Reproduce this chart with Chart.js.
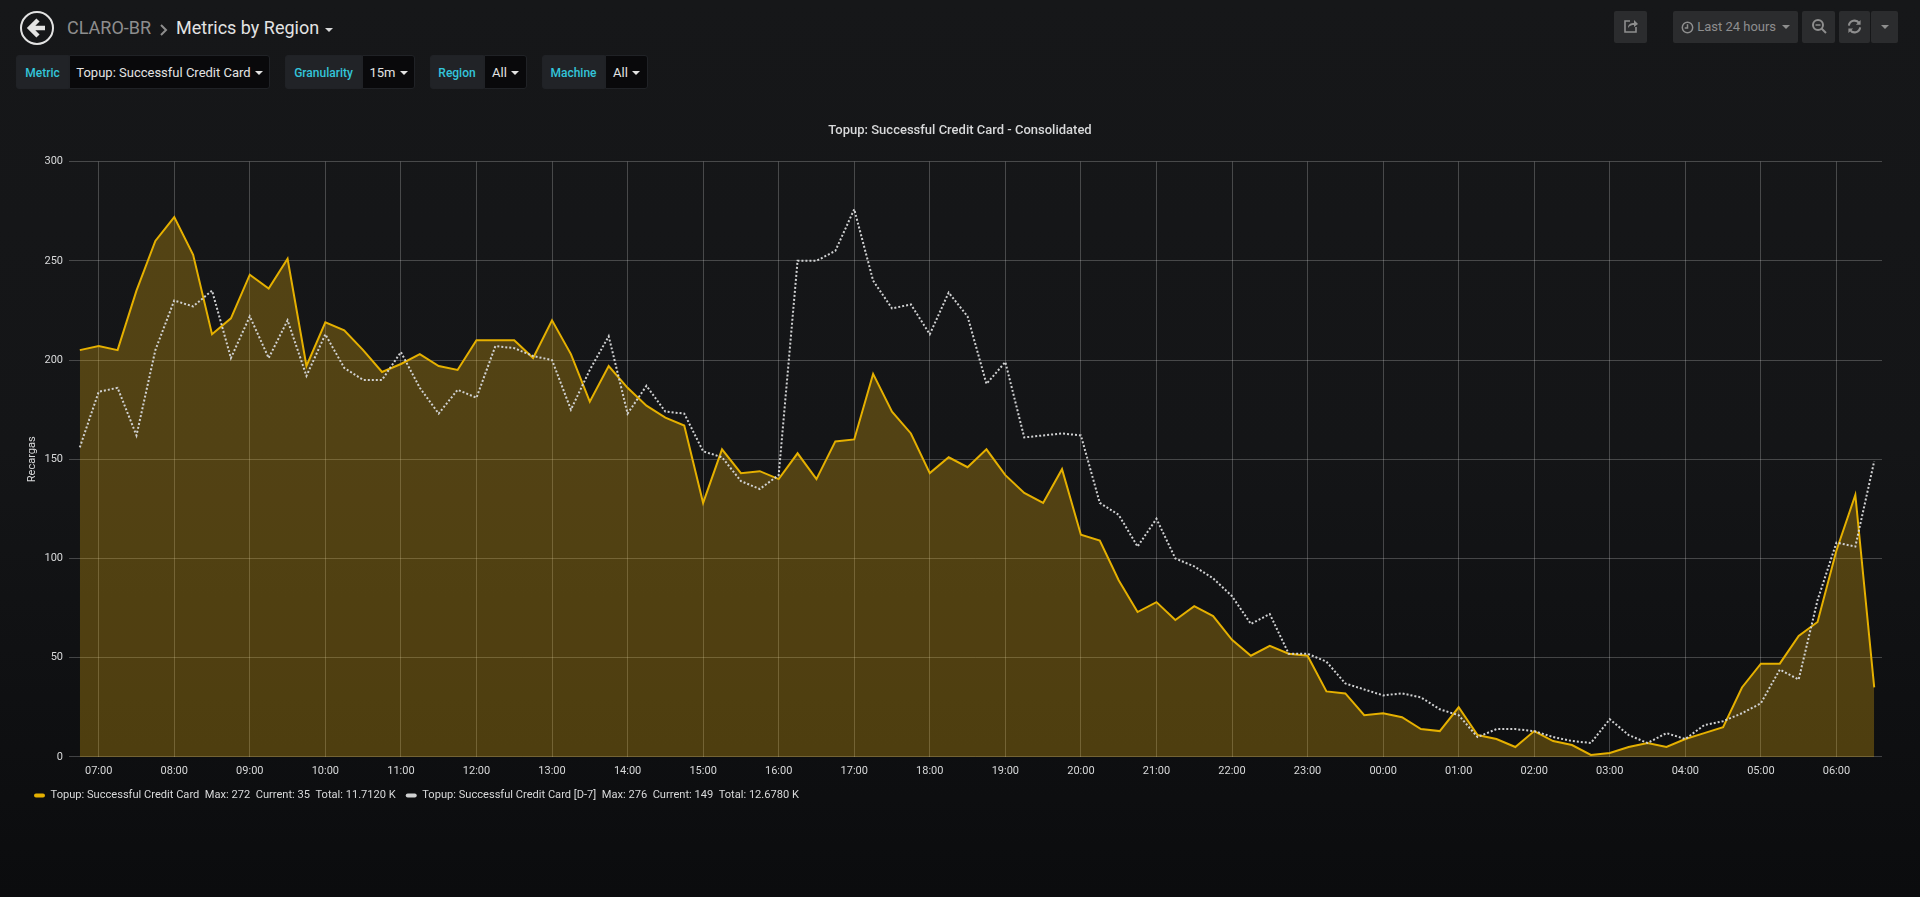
<!DOCTYPE html>
<html>
<head>
<meta charset="utf-8">
<title>Metrics by Region</title>
<script src="https://cdn.jsdelivr.net/npm/chart.js@4"></script>
<style>
	html, body { margin: 0; padding: 0; width: 1920px; height: 897px; overflow: hidden; }
	body { background: linear-gradient(#161719 0%, #141517 50%, #0b0c0e 100%); font-family: Roboto, sans-serif; color: #d8d9da; }
	.abs { position: absolute; white-space: nowrap; }
	.back { left: 20px; top: 11px; width: 30px; height: 30px; border: 2px solid #e3e3e3; border-radius: 50%; }
	.crumb { top: 16px; font-size: 18px; line-height: 23px; }
	.lbl, .val { top: 55px; height: 34px; line-height: 34px; font-size: 13px; text-align: center; box-sizing: border-box; border: 1px solid #202226; }
	.lbl { background: #212327; color: #33c5da; font-weight: 500; font-size: 12px; border-radius: 3px 0 0 3px; }
	.val { background: #09090b; color: #e3e3e3; border-radius: 0 3px 3px 0; }
	.caret { display: inline-block; width: 0; height: 0; border-left: 4px solid transparent; border-right: 4px solid transparent; border-top: 4px solid currentColor; margin-left: 4px; vertical-align: 2px; }
	.btn { top: 11px; height: 32px; background: #2b2c2e; color: #8e8e8e; border-radius: 2px; font-size: 13px; line-height: 32px; text-align: center; }
	.btn svg { vertical-align: -3px; }
	#wrap { position: absolute; left: 0; top: 100px; width: 1920px; height: 711px; }
</style>
</head>
<body>
<div class="abs back">
	<svg width="30" height="30" viewBox="0 0 30 30"><path d="M16 7 L8 15 L16 23 M9 15 L23 15" fill="none" stroke="#e3e3e3" stroke-width="4.5"/></svg>
</div>
<div class="abs crumb" style="left:67px;color:#8e8e8e">CLARO-BR</div>
<div class="abs" style="left:160px;top:21px">
	<svg width="8" height="12" viewBox="0 0 8 12"><path d="M1 1 L6 6 L1 11" fill="none" stroke="#8e8e8e" stroke-width="2"/></svg>
</div>
<div class="abs crumb" style="left:176px;color:#e3e3e3">Metrics by Region</div>
<div class="abs" style="left:325px;top:28px;width:0;height:0;border-left:4px solid transparent;border-right:4px solid transparent;border-top:4px solid #d8d9da"></div>

<div class="abs lbl" style="left:16px;width:53px">Metric</div>
<div class="abs val" style="left:69px;width:201px">Topup: Successful Credit Card<span class="caret"></span></div>
<div class="abs lbl" style="left:285px;width:77px">Granularity</div>
<div class="abs val" style="left:362px;width:53px">15m<span class="caret"></span></div>
<div class="abs lbl" style="left:430px;width:54px">Region</div>
<div class="abs val" style="left:484px;width:43px">All<span class="caret"></span></div>
<div class="abs lbl" style="left:542px;width:63px">Machine</div>
<div class="abs val" style="left:605px;width:43px">All<span class="caret"></span></div>

<div class="abs btn" style="left:1614px;width:33px">
	<svg width="16" height="16" viewBox="0 0 16 16" fill="none" stroke="#8e8e8e" stroke-width="1.6"><path d="M7 3 H2 V14 H13 V9"/><path d="M5 10 C5 6 8 5 11 5 V2 L15 6 L11 9 V7 C9 7 7 7 5 10 Z" fill="#8e8e8e" stroke="none"/></svg>
</div>
<div class="abs btn" style="left:1673px;width:125px">
	<svg width="13" height="13" viewBox="0 0 14 14" fill="none" stroke="#8e8e8e" stroke-width="1.6"><circle cx="7" cy="7" r="5.6"/><path d="M7 3.5 V7.5 H4"/></svg>
	Last 24 hours<span class="caret" style="margin-left:6px"></span>
</div>
<div class="abs btn" style="left:1802px;width:33px">
	<svg width="16" height="16" viewBox="0 0 16 16" fill="none" stroke="#8e8e8e" stroke-width="2"><circle cx="7" cy="7" r="5"/><path d="M4.5 7 H9.5" stroke-width="1.5"/><path d="M10.5 10.5 L15 15"/></svg>
</div>
<div class="abs btn" style="left:1839px;width:31px">
	<svg width="15" height="15" viewBox="0 0 16 16" fill="none" stroke="#8e8e8e" stroke-width="2.2"><path d="M2 7 A6 6 0 0 1 13 4.5"/><path d="M14 9 A6 6 0 0 1 3 11.5"/><path d="M14.5 1 V6 H9.5 Z M1.5 15 V10 H6.5 Z" fill="#8e8e8e" stroke="none"/></svg>
</div>
<div class="abs btn" style="left:1871px;width:27px"><span class="caret" style="margin:0"></span></div>

<div id="wrap"><canvas id="chart"></canvas></div>

<script>
var chartTitle = "Topup: Successful Credit Card - Consolidated";
var seriesNames = ["Topup: Successful Credit Card", "Topup: Successful Credit Card [D-7]"];
var seriesTotals = ["11.7120 K", "12.6780 K"];

var times = [
	"06:45","07:00","07:15","07:30","07:45","08:00","08:15","08:30","08:45","09:00","09:15","09:30",
	"09:45","10:00","10:15","10:30","10:45","11:00","11:15","11:30","11:45","12:00","12:15","12:30",
	"12:45","13:00","13:15","13:30","13:45","14:00","14:15","14:30","14:45","15:00","15:15","15:30",
	"15:45","16:00","16:15","16:30","16:45","17:00","17:15","17:30","17:45","18:00","18:15","18:30",
	"18:45","19:00","19:15","19:30","19:45","20:00","20:15","20:30","20:45","21:00","21:15","21:30",
	"21:45","22:00","22:15","22:30","22:45","23:00","23:15","23:30","23:45","00:00","00:15","00:30",
	"00:45","01:00","01:15","01:30","01:45","02:00","02:15","02:30","02:45","03:00","03:15","03:30",
	"03:45","04:00","04:15","04:30","04:45","05:00","05:15","05:30","05:45","06:00","06:15","06:30"
];

var current = [
	205,207,205,235,260,272,253,213,221,243,236,251,
	197,219,215,205,194,198,203,197,195,210,210,210,
	201,220,203,179,197,186,177,171,167,128,155,143,
	144,140,153,140,159,160,193,174,163,143,151,146,
	155,142,133,128,145,112,109,89,73,78,69,76,
	71,59,51,56,52,51,33,32,21,22,20,14,
	13,25,11,9,5,13,8,6,1,2,5,7,
	5,9,12,15,35,47,47,61,68,104,132,35
];

var previous = [
	156,184,186,162,205,230,227,235,201,222,201,220,
	192,213,196,190,190,204,186,173,185,181,207,206,
	202,200,175,195,212,173,187,174,173,154,151,139,
	135,142,250,250,255,276,240,226,228,213,234,222,
	188,199,161,162,163,162,128,122,106,120,100,96,
	90,81,67,72,52,52,48,37,34,31,32,30,
	24,21,10,14,14,13,10,8,7,19,11,7,
	12,9,16,18,22,27,44,39,79,108,106,149
];

// hours since midnight, next day continues past 24
function toHours(label, i){
	var p = label.split(":");
	var h = parseInt(p[0], 10) + parseInt(p[1], 10) / 60;
	return i >= times.indexOf("00:00") ? h + 24 : h;
}
function toPoints(values){
	return values.map(function(v, i){ return { x: toHours(times[i], i), y: v }; });
}
function pad(n){ return (n < 10 ? "0" : "") + n; }

var textColor = "#d8d9da";
var gridColor = "rgba(255,255,255,0.22)";
var font11 = { family: "Roboto", size: 11 };

// title is centred on the page, not on the padded layout box
var centreTitle = {
	id: "centreTitle",
	afterLayout: function(chart){
		chart.titleBlock.left = 0;
		chart.titleBlock.right = chart.width;
	}
};

var ctx = document.getElementById("chart").getContext("2d");
window.myChart = new Chart(ctx, {
	type: "line",
	plugins: [centreTitle],
	data: {
		datasets: [
			{ label: seriesNames[0], data: toPoints(current), borderColor: "#e5b000", backgroundColor: "rgba(229,172,14,0.3)", borderWidth: 2, fill: "origin", pointRadius: 0, tension: 0, order: 2 },
			{ label: seriesNames[1], data: toPoints(previous), borderColor: "#d0d1d2", backgroundColor: "#d0d1d2", borderWidth: 2, borderDash: [2, 2], fill: false, pointRadius: 0, tension: 0, order: 1 }
		]
	},
	options: {
		responsive: true,
		maintainAspectRatio: false,
		animation: false,
		devicePixelRatio: 1,
		layout: { padding: { left: 24, right: 38, top: 0, bottom: 0 } },
		plugins: {
			tooltip: { enabled: false },
			title: { display: true, text: chartTitle, color: textColor, font: { family: "Roboto", size: 13, weight: "500" }, padding: { top: 23, bottom: 23 } },
			legend: {
				position: "bottom",
				align: "start",
				labels: {
					font: { family: "Roboto", size: 11.1 },
					color: textColor,
					padding: 10,
					boxWidth: 11,
					boxHeight: 4,
					useBorderRadius: true,
					borderRadius: 2,
					generateLabels: function(chart){
						return chart.data.datasets.map(function(ds, i){
							var vals = ds.data.map(function(p){ return p.y; });
							return {
								text: ds.label + "  Max: " + Math.max.apply(null, vals) + "  Current: " + vals[vals.length - 1] + "  Total: " + seriesTotals[i],
								fillStyle: ds.borderColor,
								strokeStyle: ds.borderColor,
								lineWidth: 0,
								borderRadius: 2,
								fontColor: textColor,
								datasetIndex: i
							};
						});
					}
				}
			}
		},
		scales: {
			x: {
				type: "linear",
				min: 6.607,
				max: 30.603,
				afterFit: function(s){ s.height = 23; },
				grid: { color: gridColor, drawTicks: false },
				border: { display: false },
				ticks: {
					stepSize: 1,
					includeBounds: false,
					autoSkip: false,
					maxRotation: 0,
					padding: 8,
					color: textColor,
					font: font11,
					callback: function(v){ return pad(Math.round(v) % 24) + ":00"; }
				}
			},
			y: {
				min: 0,
				max: 300,
				afterFit: function(s){ s.width = 45; },
				title: { display: true, text: "Recargas", color: textColor, font: font11, padding: { top: 2, bottom: 0 } },
				grid: { color: gridColor, drawTicks: false },
				border: { display: false },
				ticks: { stepSize: 50, padding: 6, color: textColor, font: font11 }
			}
		}
	}
});
</script>
</body>
</html>
